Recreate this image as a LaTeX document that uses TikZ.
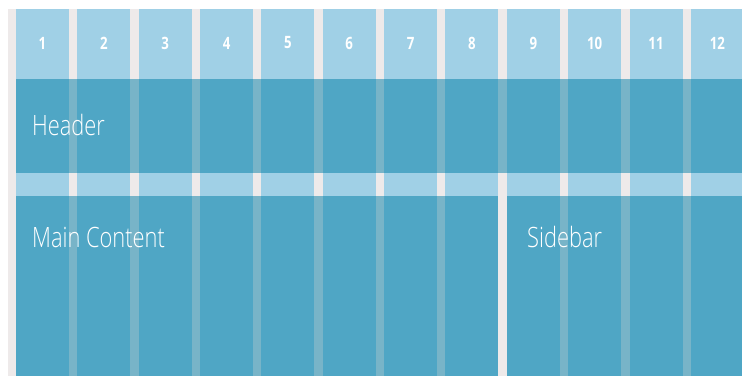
\documentclass[tikz,border=0pt]{standalone}
\usepackage{fontspec}
\setmainfont{Open Sans}[UprightFont={* Light}, BoldFont={* Bold}, FakeStretch=0.78]
\usepackage{tikz}
\definecolor{gridGrey}{HTML}{EEEAEA}
\definecolor{colLight}{HTML}{A0D0E6}
\definecolor{colDark}{HTML}{4FA6C5}
\definecolor{gutterDark}{HTML}{78B4C8}
\def\colW{53}
\def\pitch{61.35}
\def\gridL{16}
\begin{document}
\begin{tikzpicture}[
    x=1pt, y=-1pt,
    colnum/.style={text=white, font=\bfseries\fontsize{17}{17}\selectfont, inner sep=0pt},
    arealabel/.style={text=white, font=\fontsize{28}{28}\selectfont, anchor=base west, inner sep=0pt}
]
\useasboundingbox (0,0) rectangle (742,376);
\fill[white] (0,0) rectangle (742,376);
% background behind the grid
\fill[gridGrey] (8,9) rectangle (742,376);
% twelve columns with their numbers
\foreach \i in {1,...,12}{
  \pgfmathsetmacro\xl{\gridL+(\i-1)*\pitch}
  \fill[colLight] (\xl,9) rectangle ++(\colW,367);
  \node[colnum] (num\i) at (\xl+\colW/2,43) {\i};
}
% header, main content and sidebar
\fill[colDark] (\gridL,79) rectangle (742,172.5);
\fill[colDark] (\gridL,196) rectangle ({\gridL+7*\pitch+\colW},376);
\fill[colDark] ({\gridL+8*\pitch},196) rectangle (742,376);
% gutters seen through the dark areas
\foreach \i in {1,...,11}{
  \pgfmathsetmacro\gl{\gridL+(\i-1)*\pitch+\colW}
  \fill[gutterDark] (\gl,79) rectangle ({\gl+\pitch-\colW},172.5);
  \ifnum\i=8\else
    \fill[gutterDark] (\gl,196) rectangle ({\gl+\pitch-\colW},376);
  \fi
}
\node[arealabel] (header) at (32,135) {Header};
\node[arealabel] (main) at (32,247) {Main Content};
\node[arealabel] (sidebar) at (527,247) {Sidebar};
\end{tikzpicture}
\end{document}
